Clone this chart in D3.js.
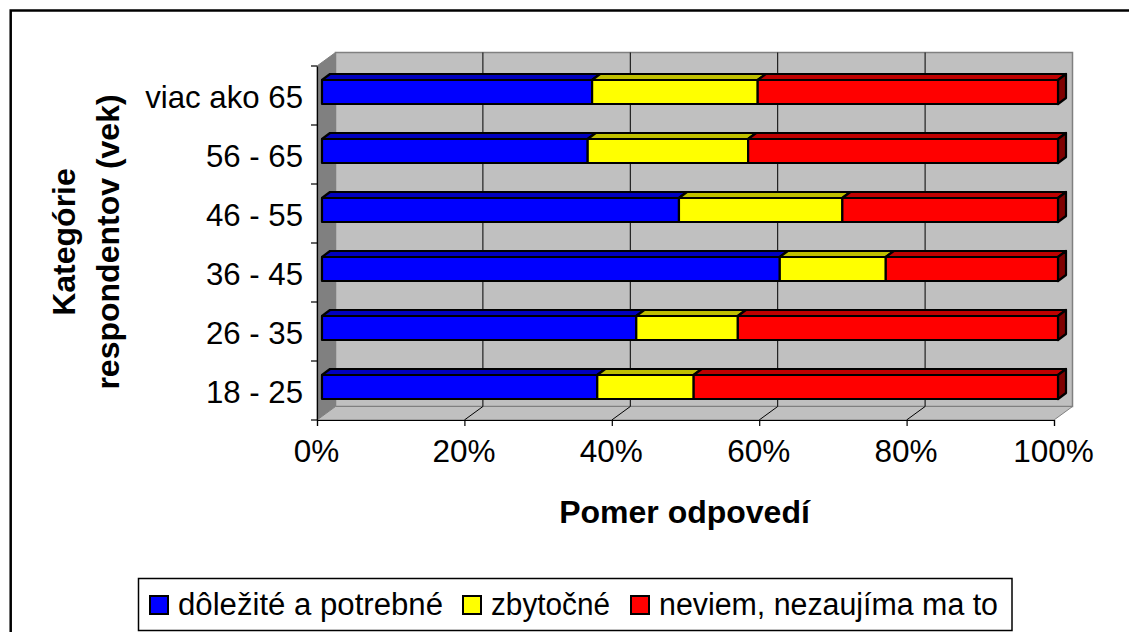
<!DOCTYPE html>
<html>
<head>
  <meta charset="utf-8">
  <style type="text/css">
    body { margin: 0; background: #fff; }
    text { font-family: "Liberation Sans", Arial, sans-serif; fill: #000; }
  </style>
  <script src="https://d3js.org/d3.v7.min.js"></script>
</head>
<body>
  <div id="chart"></div>
  <script type="text/javascript">
    var categories = ["viac ako 65", "56 - 65", "46 - 55", "36 - 45", "26 - 35", "18 - 25"];
    var seriesNames = ["dôležité a potrebné", "zbytočné", "neviem, nezaujíma ma to"];
    var dolezite = [0.367, 0.361, 0.485, 0.622, 0.427, 0.374];
    var zbytocne = [0.225, 0.218, 0.222, 0.144, 0.138, 0.131];
    var neviem = [0.408, 0.421, 0.293, 0.234, 0.435, 0.495];
    var xTicks = [0, 0.2, 0.4, 0.6, 0.8, 1];

    var frontColors = ["#0000ff", "#ffff00", "#ff0000"];
    var topColors = ["#0000bf", "#bfbf00", "#bf0000"];
    var sideColor = "#7f0000";

    var svg = d3.select("#chart").append("svg")
      .attr("width", 1129).attr("height", 632)
      .style("display", "block");

    // chart frame, only top and left edges are in view
    svg.append("path")
      .attr("d", d3.line()([[10.7, 632], [10.7, 10.5], [1129, 10.5]]))
      .attr("fill", "none").attr("stroke", "#000").attr("stroke-width", 2.5);

    var x = d3.scaleLinear().domain([0, 1]).range([317, 1054]);
    var y = d3.scaleBand().domain(categories).range([66, 420]);
    var floorY = y.range()[1], topY = y.range()[0];

    // 3d depth of the box
    var dx = 18.5, dy = 13.5;
    var x0 = x(0), x1 = x(1);

    svg.append("path")
      .attr("d", d3.line()([[x0 + dx, topY - dy], [x1 + dx, topY - dy], [x1 + dx, floorY - dy], [x0 + dx, floorY - dy]]) + "Z")
      .attr("fill", "#c0c0c0").attr("stroke", "#808080").attr("stroke-width", 1.5);
    svg.append("path")
      .attr("d", d3.line()([[x0, topY], [x0 + dx, topY - dy], [x0 + dx, floorY - dy], [x0, floorY]]) + "Z")
      .attr("fill", "#808080").attr("stroke", "#808080");
    svg.append("path")
      .attr("d", d3.line()([[x0, floorY], [x0 + dx, floorY - dy], [x1 + dx, floorY - dy], [x1, floorY]]) + "Z")
      .attr("fill", "#c0c0c0").attr("stroke", "#808080").attr("stroke-width", 1);

    // gridlines on back wall and floor
    var grid = xTicks.slice(1);
    svg.selectAll(".gridback").data(grid).enter().append("line")
      .attr("x1", function(d) { return x(d) + dx; }).attr("x2", function(d) { return x(d) + dx; })
      .attr("y1", topY - dy).attr("y2", floorY - dy)
      .attr("stroke", function(d) { return d === 1 ? "#808080" : "#000"; }).attr("stroke-width", 1);
    svg.selectAll(".gridfloor").data(grid.slice(0, -1)).enter().append("line")
      .attr("x1", function(d) { return x(d); }).attr("x2", function(d) { return x(d) + dx; })
      .attr("y1", floorY).attr("y2", floorY - dy)
      .attr("stroke", "#000").attr("stroke-width", 1);

    // stacked bars
    var barOffsetX = 5, barHeight = 24, depthX = 8, depthY = 6;
    var barScale = d3.scaleLinear().domain([0, 1]).range([x0 + barOffsetX, x1 + barOffsetX - 1]);
    var rows = categories.map(function(c, i) { return { cat: c, vals: [dolezite[i], zbytocne[i], neviem[i]] }; });

    rows.forEach(function(row) {
      var top = y(row.cat) + (y.bandwidth() - barHeight) / 2 - 3.5;
      var start = 0;
      var g = svg.append("g").attr("stroke", "#000").attr("stroke-width", 2.2).attr("stroke-linejoin", "round");
      row.vals.forEach(function(v, s) {
        var a = barScale(start), b = barScale(start + v);
        g.append("path")
          .attr("d", d3.line()([[a, top], [a + depthX, top - depthY], [b + depthX, top - depthY], [b, top]]) + "Z")
          .attr("fill", topColors[s]);
        if (s === 2) {
          g.append("path")
            .attr("d", d3.line()([[b, top], [b + depthX, top - depthY], [b + depthX, top + barHeight - depthY], [b, top + barHeight]]) + "Z")
            .attr("fill", sideColor);
        }
        g.append("rect")
          .attr("x", a).attr("y", top).attr("width", b - a).attr("height", barHeight)
          .attr("fill", frontColors[s]);
        start += v;
      });
    });

    // axes
    var xAxis = d3.axisBottom(x).tickValues(xTicks).tickFormat(d3.format(".0%")).tickSize(6).tickPadding(14);
    var gx = svg.append("g").attr("transform", "translate(0," + floorY + ")").call(xAxis);
    gx.selectAll("text").attr("font-size", 31.5).attr("dx", -1).style("font-family", "'Liberation Sans'").attr("dy", "0.71em");
    gx.selectAll("path,line").attr("stroke", "#000").attr("stroke-width", 1.2);

    var yAxis = d3.axisLeft(y).tickSize(0).tickPadding(14);
    var gy = svg.append("g").attr("transform", "translate(" + x0 + ",0)").call(yAxis);
    gy.select(".domain").attr("stroke", "#000").attr("stroke-width", 1.2);
    gy.selectAll("text").attr("font-size", 31.2).attr("y", 2.5).style("font-family", "'Liberation Sans'");
    y.domain().concat(["end"]).forEach(function(c, i) {
      var ty = c === "end" ? floorY : y(c);
      gy.append("line").attr("x1", -6).attr("x2", 0).attr("y1", ty).attr("y2", ty)
        .attr("stroke", "#000").attr("stroke-width", 1.2);
    });

    // axis titles
    svg.append("text").attr("x", 684.5).attr("y", 523).attr("text-anchor", "middle")
      .attr("font-size", 32).attr("font-weight", "bold").text("Pomer odpovedí");
    var yTitle = svg.append("text").attr("transform", "translate(75,242) rotate(-90)")
      .attr("text-anchor", "middle").attr("font-size", 32).attr("font-weight", "bold");
    yTitle.append("tspan").attr("x", 0).attr("dy", 0).text("Kategórie");
    yTitle.append("tspan").attr("x", 0).attr("dy", 44).text("respondentov (vek)");

    // legend
    svg.append("rect").attr("x", 138.5).attr("y", 578.5).attr("width", 873.5).attr("height", 52)
      .attr("fill", "#fff").attr("stroke", "#000").attr("stroke-width", 1.5);
    var legendX = [150, 463, 631];
    var legendTextLen = [265, 119, 339];
    seriesNames.forEach(function(name, i) {
      svg.append("rect").attr("x", legendX[i]).attr("y", 596).attr("width", 18).attr("height", 18)
        .attr("fill", frontColors[i]).attr("stroke", "#000").attr("stroke-width", 2);
      svg.append("text").attr("x", legendX[i] + 28).attr("y", 615)
        .attr("font-size", 31).attr("textLength", legendTextLen[i]).attr("lengthAdjust", "spacingAndGlyphs").text(name);
    });
  </script>
</body>
</html>
